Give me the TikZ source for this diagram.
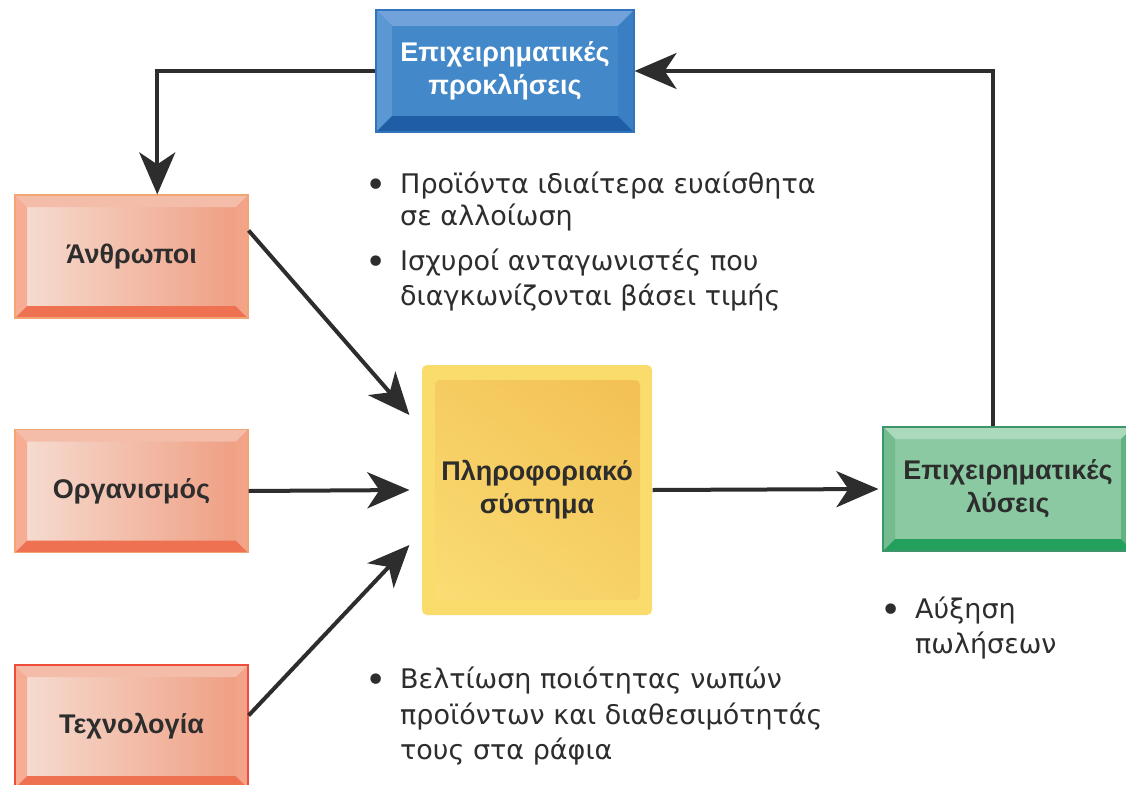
\documentclass[tikz,border=0pt]{standalone}
\usepackage{fontspec}
\setmainfont{Liberation Sans}
\newfontfamily\notefont{DejaVu Sans}
\usetikzlibrary{arrows.meta,calc,shadings}

\definecolor{ink}{HTML}{2D2D2D}
% blue box
\definecolor{bluFace}{HTML}{4388C8}
\definecolor{bluTop}{HTML}{72A2DA}
\definecolor{bluLeft}{HTML}{5B97D3}
\definecolor{bluBot}{HTML}{1F5EA6}
\definecolor{bluRight}{HTML}{3A7EC3}
\definecolor{bluLine}{HTML}{2F74BC}
% salmon boxes
\definecolor{salL}{HTML}{F6DED3}
\definecolor{salR}{HTML}{EF9C80}
\definecolor{salTop}{HTML}{F3BDAA}
\definecolor{salLeft}{HTML}{F7AC94}
\definecolor{salBot}{HTML}{EE7152}
\definecolor{salRight}{HTML}{F3A488}
\definecolor{salLine}{HTML}{F2A474}
\definecolor{redLine}{HTML}{F04C3C}
% green box
\definecolor{grnFace}{HTML}{8AC9A1}
\definecolor{grnTop}{HTML}{AADABB}
\definecolor{grnLeft}{HTML}{74BB8E}
\definecolor{grnBot}{HTML}{22A05C}
\definecolor{grnRight}{HTML}{62B180}
\definecolor{grnLine}{HTML}{3C9669}
% yellow box
\definecolor{yelOut}{HTML}{F9DC6C}
\definecolor{yelA}{HTML}{F2BE52}
\definecolor{yelB}{HTML}{FADF76}
\colorlet{yelC}{yelA!60!yelB}
\colorlet{yelD}{yelA!40!yelB}

% large list bullet hanging left of the text
\newcommand\itemdot{\llap{\raisebox{-4pt}{\fontsize{36}{0}\selectfont •}\hspace{13pt}}}

\tikzset{
  % raised box: depth, top, left, bottom, right bevel colours
  bevel/.style n args={5}{
    path picture={
      \fill[#2] (path picture bounding box.north west) -- (path picture bounding box.north east)
        -- ([shift={(-#1,-#1)}]path picture bounding box.north east)
        -- ([shift={(#1,-#1)}]path picture bounding box.north west) -- cycle;
      \fill[#3] (path picture bounding box.north west) -- (path picture bounding box.south west)
        -- ([shift={(#1,#1)}]path picture bounding box.south west)
        -- ([shift={(#1,-#1)}]path picture bounding box.north west) -- cycle;
      \fill[#4] (path picture bounding box.south west) -- (path picture bounding box.south east)
        -- ([shift={(-#1,#1)}]path picture bounding box.south east)
        -- ([shift={(#1,#1)}]path picture bounding box.south west) -- cycle;
      \fill[#5] (path picture bounding box.north east) -- (path picture bounding box.south east)
        -- ([shift={(-#1,#1)}]path picture bounding box.south east)
        -- ([shift={(-#1,-#1)}]path picture bounding box.north east) -- cycle;
    }},
  boxlabel/.style={font=\bfseries\fontsize{27}{33}\selectfont, align=center, inner sep=0pt, line width=1.2pt},
  salbox/.style={boxlabel, text=ink, draw=salLine, left color=salL, right color=salR,
    minimum width=233pt, minimum height=123pt,
    bevel={12pt}{salTop}{salLeft}{salBot}{salRight}},
  bullets/.style={font=\notefont\fontsize{27}{35}\selectfont, text=ink, align=left, inner sep=0pt, anchor=north west},
  arr/.style={draw=ink, line width=4pt, -{Stealth[length=42pt, width=36pt, inset=12pt]}},
}

\begin{document}
\begin{tikzpicture}[x=1pt, y=-1pt]
\clip (0,0) rectangle (1126,784);
\fill[white] (0,0) rectangle (1126,784);

% business challenges
\node[boxlabel, text=white, draw=bluLine, fill=bluFace, minimum width=258pt, minimum height=122pt,
  bevel={16pt}{bluTop}{bluLeft}{bluBot}{bluRight}] (chal) at (505,71)
  {Επιχειρηματικές\\προκλήσεις};

% the three dimensions
\node[salbox] (ppl) at (131.5,256.5) {Άνθρωποι};
\node[salbox] (org) at (131.5,491) {Οργανισμός};
\node[salbox, draw=redLine] (tech) at (131.5,726.5) {Τεχνολογία};

% information system
\node[boxlabel, text=ink, fill=yelOut, rounded corners=5pt, minimum width=230pt, minimum height=250pt,
  path picture={
    \shade[upper right=yelA, lower left=yelB, upper left=yelC, lower right=yelD]
      ([shift={(13pt,-15pt)}]path picture bounding box.north west)
      rectangle ([shift={(-12pt,15pt)}]path picture bounding box.south east);
  }] (is) at (537,490) {Πληροφοριακό\\σύστημα};

% business solutions
\node[boxlabel, text=ink, draw=grnLine, fill=grnFace, minimum width=250pt, minimum height=124pt,
  bevel={12pt}{grnTop}{grnLeft}{grnBot}{grnRight}] (sol) at (1008,489)
  {Επιχειρηματικές\\λύσεις};

% connectors
\draw[arr] (chal.west) -| ($(ppl.north west)!0.61!(ppl.north east)$);
\draw[arr] ($(sol.north)+(-15,0)$) |- (chal.east);
\draw[arr] ($(ppl.east)+(0,-26)$) -- ($(is.west)+(-12,-75)$);
\draw[arr] (org.east) -- ($(is.west)+(-12,0)$);
\draw[arr] ($(tech.east)+(0,-11)$) -- ($(is.west)+(-12,55)$);
\draw[arr] (is.east) -- ($(sol.west)+(-4,0)$);

% notes
\node[bullets] (n1) at (400,172)
  {\itemdot Προϊόντα ιδιαίτερα ευαίσθητα\\[-3pt]σε αλλοίωση};
\node[bullets] (n2) at (400,249)
  {\itemdot Ισχυροί ανταγωνιστές που\\διαγκωνίζονται βάσει τιμής};
\node[bullets] (n3) at (915,597)
  {\itemdot Αύξηση\\πωλήσεων};
\node[bullets] (n4) at (400,667)
  {\itemdot Βελτίωση ποιότητας νωπών\\[1pt]προϊόντων και διαθεσιμότητάς\\τους στα ράφια};
\end{tikzpicture}
\end{document}
